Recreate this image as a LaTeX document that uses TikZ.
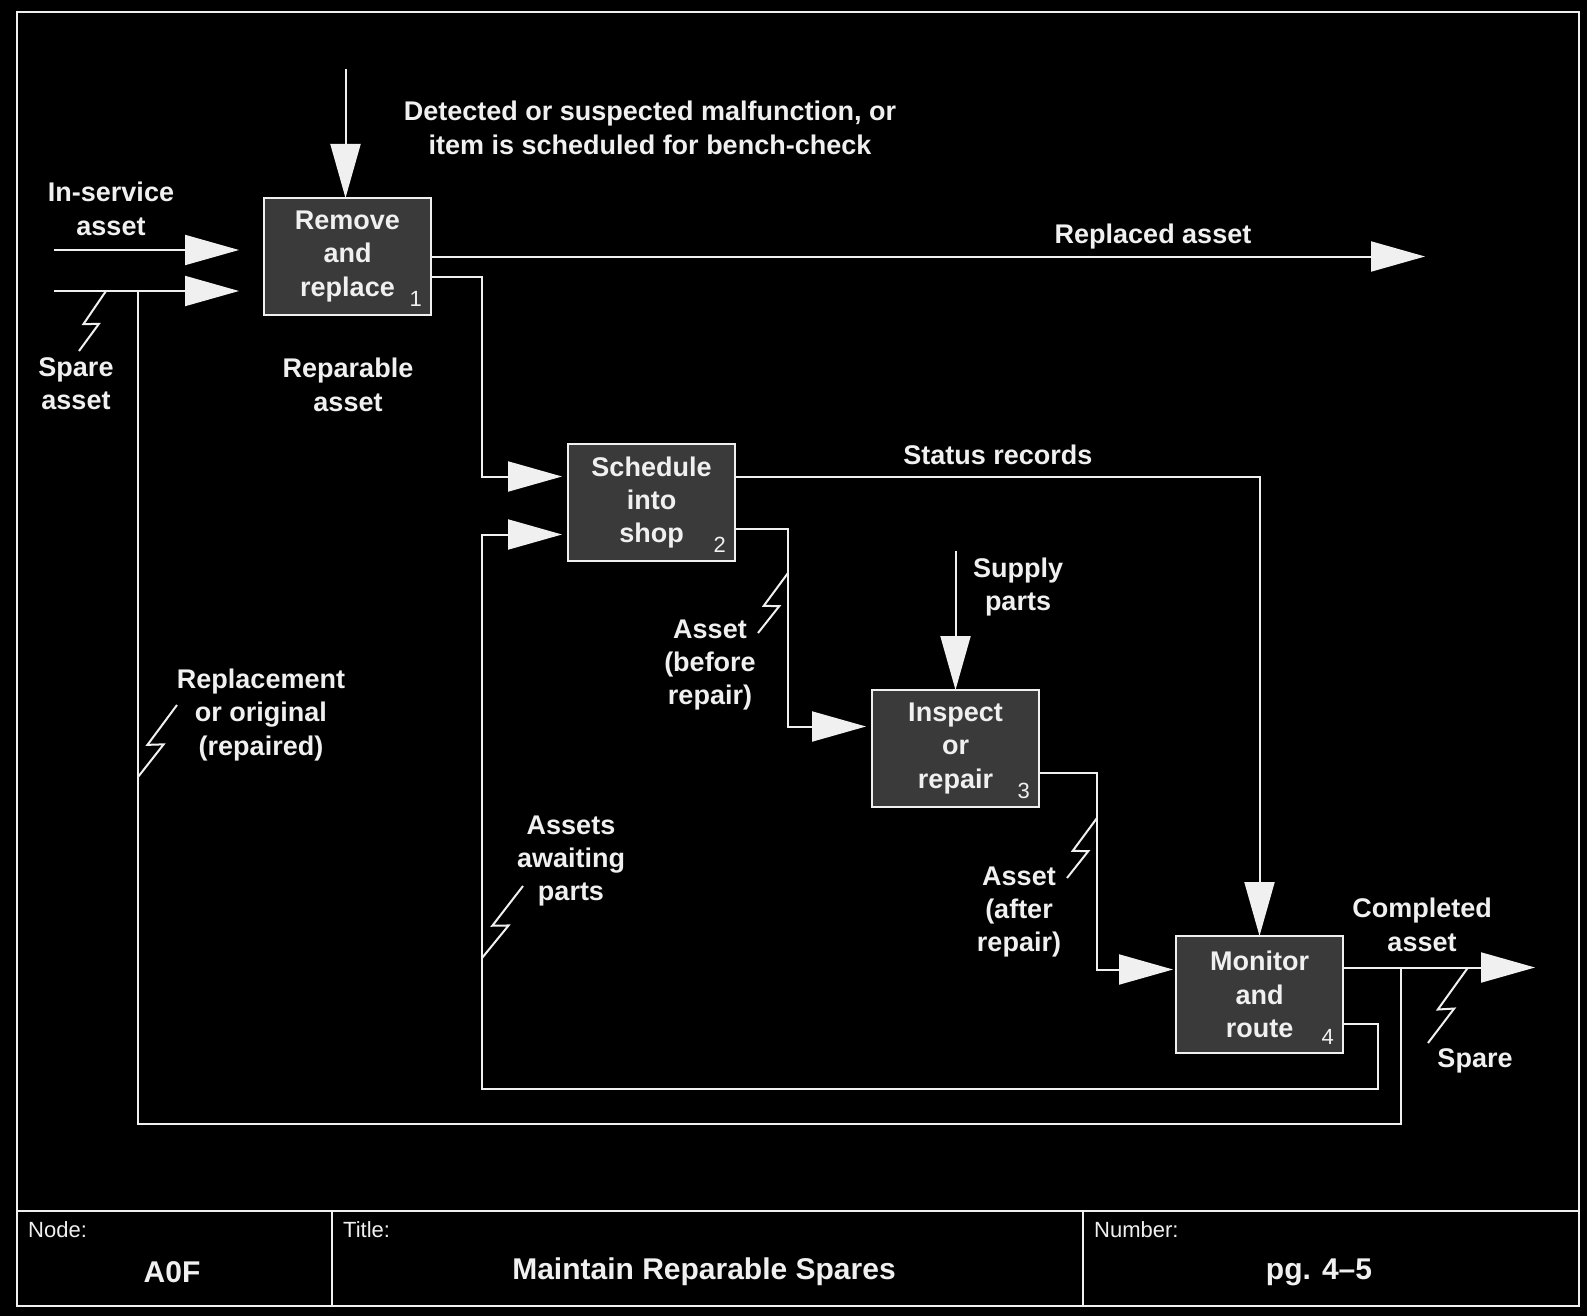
\documentclass[tikz,border=0pt]{standalone}
\usepackage{fontspec}
\setmainfont{Liberation Sans}
\usetikzlibrary{arrows.meta,calc,positioning}
\definecolor{boxgray}{RGB}{58,58,58}
\definecolor{inkwhite}{RGB}{240,240,240}
\newcommand{\boltmark}[2]{\draw[wire] (#1) -- ($(#1)!0.6!(#2)!7pt!-90:(#2)$) -- ($(#1)!0.5!(#2)!7pt!90:(#2)$) -- (#2);}

\begin{document}
\begin{tikzpicture}[
    x=1pt, y=-1pt,
    font=\fontsize{27}{33.4}\selectfont\bfseries,
    node distance=129pt and 137pt,
    act/.style={draw=inkwhite, line width=2pt, fill=boxgray, text=inkwhite, align=center, minimum width=167pt, minimum height=117pt, inner sep=0pt, outer sep=0pt},
    note/.style={text=inkwhite, align=center, inner sep=0pt},
    num/.style={font=\fontsize{22}{22}\selectfont, text=inkwhite, anchor=south east, inner sep=0pt},
    wire/.style={draw=inkwhite, line width=2pt},
    flow/.style={wire, -{Triangle[length=54pt, width=30pt]}},
    tag/.style={font=\fontsize{22}{22}\selectfont, text=inkwhite, anchor=west, inner sep=0pt},
    ttl/.style={font=\fontsize{30}{30}\selectfont\bfseries, text=inkwhite, inner sep=0pt}
  ]
    \fill[black] (0,0) rectangle (1587,1316);
    \draw[wire] (17,12) rectangle (1579,1306);
    \draw[wire] (17,1211) -- (1579,1211);
    \draw[wire] (332,1211) -- (332,1306);
    \draw[wire] (1083,1211) -- (1083,1306);

    \node[act, anchor=north west] (remove) at (264,198) {Remove\\and\\replace};
    \node[act, below right=of remove] (sched) {Schedule\\into\\shop};
    \node[act, below right=of sched] (inspect) {Inspect\\or\\repair};
    \node[act, below right=of inspect] (monitor) {Monitor\\and\\route};
    \node[num] at ($(remove.south east)+(-9,-8)$) {1};
    \node[num] at ($(sched.south east)+(-9,-8)$) {2};
    \node[num] at ($(inspect.south east)+(-9,-8)$) {3};
    \node[num] at ($(monitor.south east)+(-9,-8)$) {4};

    \coordinate (trigger) at ($(remove.north)+(-2,-129)$);
    \coordinate (inserv) at (54,250);
    \coordinate (sparein) at (54,291);
    \coordinate (sparejoin) at (138,291);
    \coordinate (replaced) at (1425,257);
    \coordinate (supply) at ($(inspect.north)+(0,-139)$);
    \coordinate (completed) at ($(monitor.east)+(192,-27)$);

    \draw[flow] (trigger) -- (trigger |- remove.north);
    \draw[flow, shorten >=25pt] (inserv) -- (inserv -| remove.west);
    \draw[flow, shorten >=25pt] (sparein) -- (sparein -| remove.west);
    \draw[flow] (remove.east) -- (remove.east -| replaced);
    \draw[flow, shorten >=6pt] ($(remove.east)+(0,20)$) -- ++(51,0) |- ($(sched.west)+(0,-26)$);
    \draw[flow] ($(sched.east)+(0,-26)$) -| (monitor.north);
    \draw[flow, shorten >=6pt] ($(sched.east)+(0,26)$) -- ++(53,0) |- ($(inspect.west)+(0,-22)$);
    \draw[flow] (supply) -- (inspect.north);
    \draw[flow, shorten >=3pt] ($(inspect.east)+(0,24)$) -- ++(58,0) |- ($(monitor.west)+(0,-25)$);
    \draw[flow] ($(monitor.east)+(0,-27)$) -- (completed);
    \draw[flow, shorten >=6pt] ($(monitor.east)+(0,29)$) -| ++(35,65.5) -| ($(sched.west)+(-86,32)$) -- ($(sched.west)+(0,32)$);
    \draw[wire] ($(monitor.east)+(58,-27)$) -- ++(0,156.5) -| (sparejoin);

    \boltmark{106,291}{79,351}
    \boltmark{177,705}{138,777}
    \boltmark{523,886}{482,958}
    \boltmark{788,573}{758,633}
    \boltmark{1097,818}{1067,878}
    \boltmark{1468,967.5}{1428,1043}

    \node[note] (detect) at (650,128) {Detected or suspected malfunction, or\\item is scheduled for bench-check};
    \node[note] (inservlbl) at (111,209) {In-service\\asset};
    \node[note] (sparelbl) at (76,384) {Spare\\asset};
    \node[note] (reparlbl) at (348,385) {Reparable\\asset};
    \node[note] (replacedlbl) at (1153,237) {Replaced asset};
    \node[note] (statuslbl) at (998,455) {Status records};
    \node[note] (replacementlbl) at (261,715) {Replacement\\or original\\(repaired)};
    \node[note] (beforelbl) at (710,665) {Asset\\(before\\repair)};
    \node[note] (supplylbl) at (1018,587) {Supply\\parts};
    \node[note] (awaitlbl) at (571,861) {Assets\\awaiting\\parts};
    \node[note] (afterlbl) at (1019,912) {Asset\\(after\\repair)};
    \node[note] (completedlbl) at (1422,925) {Completed\\asset};
    \node[note] (sparetwolbl) at (1475,1061) {Spare};

    \node[tag] (nodetag) at (28,1230) {Node:};
    \node[tag] (titletag) at (343,1230) {Title:};
    \node[tag] (numbertag) at (1094,1230) {Number:};
    \node[ttl] (nodeval) at (172,1272) {A0F};
    \node[ttl] (titleval) at (704,1272) {Maintain Reparable Spares};
    \node[ttl] (numberval) at (1319,1272) {pg. 4--5};
  \end{tikzpicture}
\end{document}
